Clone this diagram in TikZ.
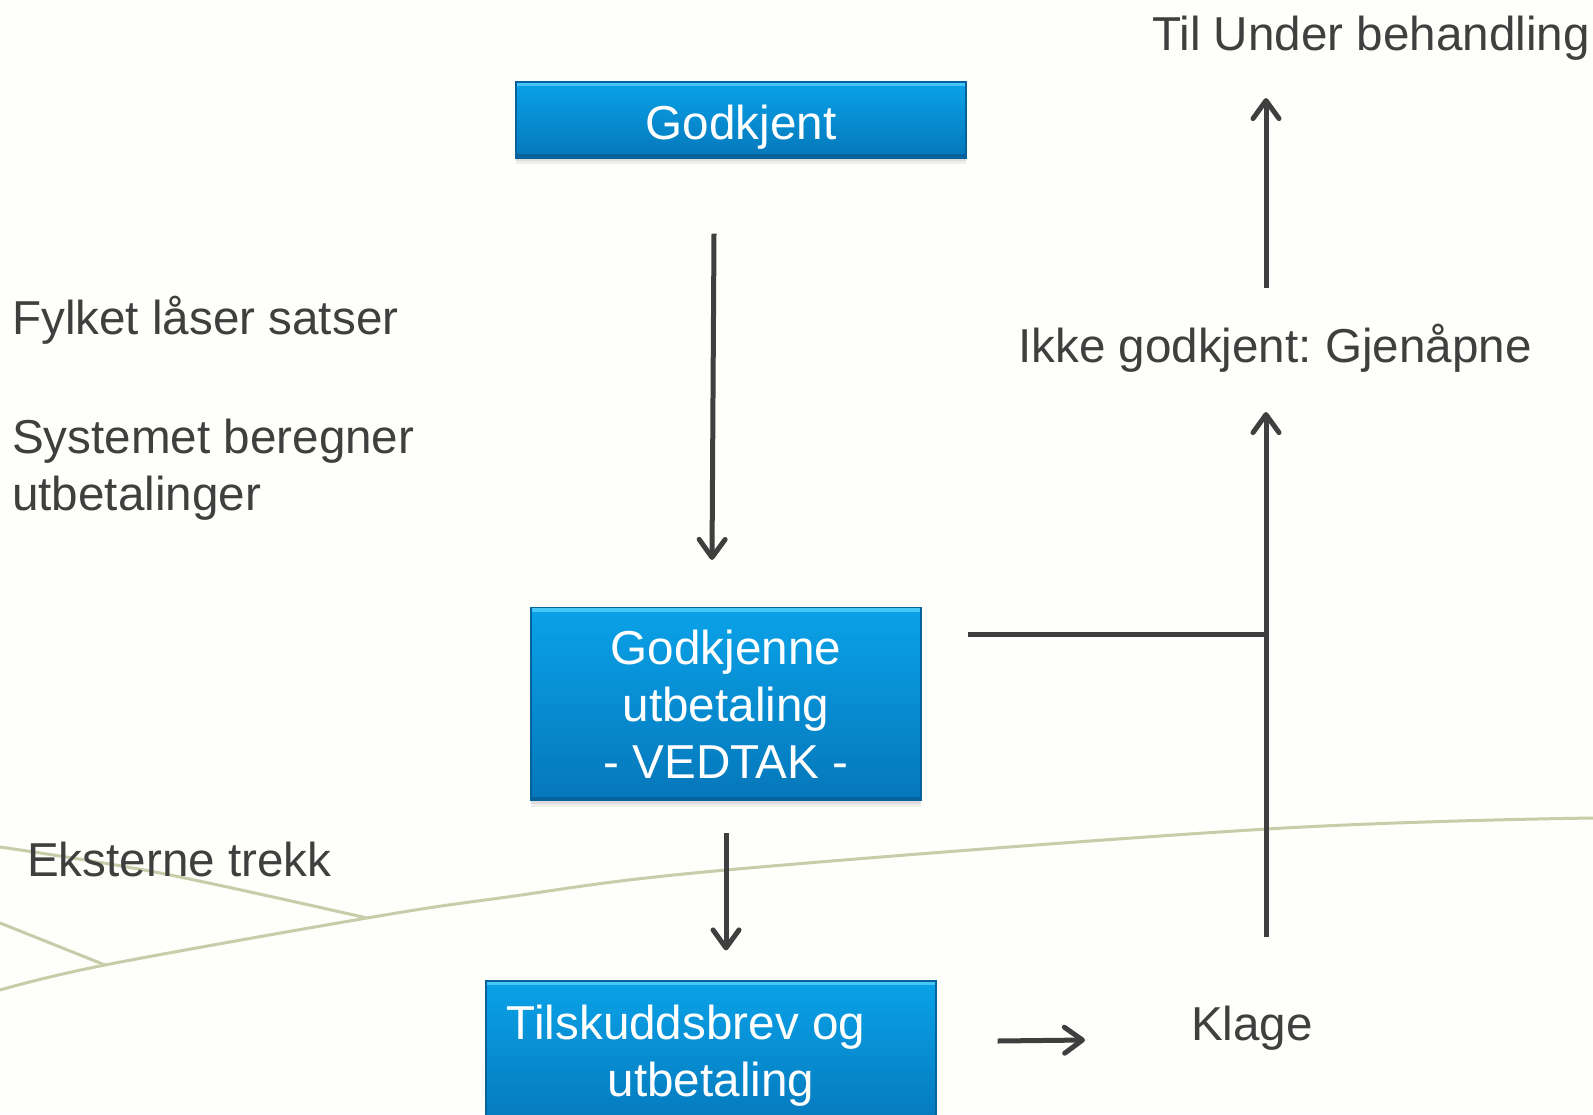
\documentclass[tikz,border=0pt]{standalone}
\usepackage{fontspec}
\setmainfont{Liberation Sans}
\usetikzlibrary{arrows.meta,shadows,calc}
\definecolor{txt}{HTML}{3F3F3F}
\definecolor{bgc}{HTML}{FEFEFB}
\definecolor{curvec}{HTML}{C9CCA9}
\definecolor{boxtop}{HTML}{0AA2E8}
\definecolor{boxbot}{HTML}{0577BA}
\definecolor{boxhi}{HTML}{45C6F6}
\definecolor{boxedge}{HTML}{05629C}
\begin{document}
\frenchspacing
\begin{tikzpicture}[x=1pt,y=-1pt,
  txtstyle/.style={text=txt,font=\fontsize{47.6pt}{57pt}\selectfont,inner sep=0pt},
  boxstyle/.style={top color=boxtop,bottom color=boxbot,draw=boxedge,line width=1.2pt,
    text=white,font=\fontsize{47.6pt}{57pt}\selectfont,align=center,inner sep=0pt,
    drop shadow={opacity=0.12,shadow xshift=0pt,shadow yshift=-6pt},
    drop shadow={opacity=0.15,shadow xshift=0pt,shadow yshift=-3pt},
    path picture={
      \fill[boxhi] (path picture bounding box.north west) rectangle ([yshift=-4pt]path picture bounding box.north east);
      \fill[boxedge] (path picture bounding box.south west) rectangle ([yshift=4pt]path picture bounding box.south east);}},
  conn/.style={draw=txt,line width=5pt},
  arr/.style={conn,-{Straight Barb[length=18pt,width=26pt,line cap=round,line join=round]}},
  bgline/.style={draw=curvec,line width=3pt}]
\useasboundingbox (0,0) rectangle (1593,1114);
\fill[bgc] (0,0) rectangle (1593,1114);
% background curves
\draw[bgline] plot[smooth,tension=0.6] coordinates {(0,990) (105,965) (367,918) (500,898) (726,870) (1267,829) (1593,818)};
\draw[bgline] plot[smooth,tension=0.6] coordinates {(0,847) (160,873) (367,918)};
\draw[bgline] (0,923) -- (105,965);
% boxes
\node[boxstyle,minimum width=450pt,minimum height=76pt,text height=48pt,text depth=10pt] (g1) at (741,120) {Godkjent};
\node[boxstyle,minimum width=390pt,minimum height=193pt] (g2) at (726,704) {Godkjenne\\utbetaling\\- VEDTAK -};
\node[boxstyle,minimum width=450pt,minimum height=150pt] (g3) at (711,1056) {Tilskuddsbrev og\kern50pt\\utbetaling};
% texts
\node[txtstyle,anchor=base east] (til) at (1590,50) {Til Under behandling};
\node[txtstyle,anchor=base west] (fylket) at (12,334) {Fylket låser satser};
\node[txtstyle,anchor=north west,align=left] (sys) at (12,419) {Systemet beregner\\utbetalinger};
\node[txtstyle,anchor=base west] (ikke) at (1018,362) {Ikke godkjent: Gjenåpne};
\node[txtstyle,anchor=base west] (ekst) at (27,876) {Eksterne trekk};
\node[txtstyle,anchor=base west] (klage) at (1191,1040) {Klage};
\coordinate (jn) at (1266,634);
% connectors
\draw[arr] ([xshift=-27pt,yshift=-75pt]g1.south) -- ([xshift=-14pt,yshift=47pt]g2.north);
\draw[arr] ([yshift=-32pt]g2.south) -- ([xshift=15pt,yshift=30pt]g3.north);
\draw[arr] ([xshift=61pt,yshift=15pt]g3.east) -- ([xshift=-106pt]klage.base west);
\draw[arr] ($(jn |- klage.north)+(0pt,68pt)$) -- ($(jn |- ikke.south)+(0pt,-40pt)$);
\draw[conn] ($(jn -| g2.east)+(46pt,0pt)$) -- (jn);
\draw[arr] ($(jn |- ikke.north)+(0pt,35pt)$) -- ($(jn |- til.south)+(0pt,-38pt)$);
\end{tikzpicture}
\end{document}
